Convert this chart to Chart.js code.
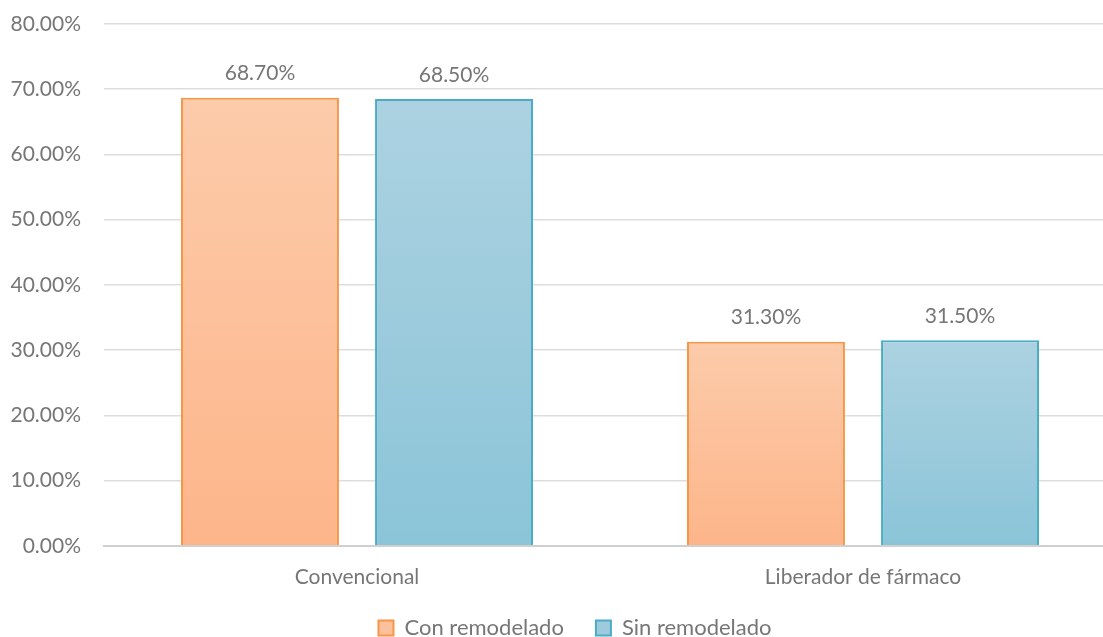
<!DOCTYPE html>
<html>
<head>
<meta charset="utf-8">
<script src="https://cdn.jsdelivr.net/npm/chart.js@4.4.1/dist/chart.umd.min.js"></script>
<style>
  html, body { margin: 0; padding: 0; background: #ffffff; overflow: hidden; }
  #wrap { position: relative; width: 1148px; height: 637px; }
</style>
</head>
<body>
<div id="wrap"><canvas id="c"></canvas></div>
<script>
const categories = ['Convencional', 'Liberador de fármaco'];
const seriesNames = ['Con remodelado', 'Sin remodelado'];
const conRemodelado = [68.7, 31.3];
const sinRemodelado = [68.5, 31.5];
const yTicks = [0, 10, 20, 30, 40, 50, 60, 70, 80];

const FONT = 'Lato, "Liberation Sans", sans-serif';
const TEXT = '#767676';

const palettes = [
  { top: '#FCCBAA', bottom: '#FDB58A', border: '#F79646', legend: '#FCC09C' },
  { top: '#ACD2E1', bottom: '#8BC4D8', border: '#4BACC6', legend: '#9DCBDD' }
];

function gradFill(pi) {
  return function (ctx) {
    const chart = ctx.chart;
    const p = palettes[pi];
    if (!chart.chartArea || ctx.type !== 'data') return p.bottom;
    const y = chart.scales.y;
    const v = ctx.raw;
    const yTop = y.getPixelForValue(v);
    const yBot = y.getPixelForValue(0);
    if (!isFinite(yTop) || !isFinite(yBot) || yTop === yBot) return p.bottom;
    const g = chart.ctx.createLinearGradient(0, yTop, 0, yBot);
    g.addColorStop(0, p.top);
    g.addColorStop(1, p.bottom);
    return g;
  };
}

const dataLabels = {
  id: 'dataLabels',
  afterDatasetsDraw(chart) {
    const ctx = chart.ctx;
    ctx.save();
    ctx.font = '21px ' + FONT;
    ctx.fillStyle = TEXT;
    ctx.textAlign = 'center';
    ctx.textBaseline = 'middle';
    chart.data.datasets.forEach((ds, di) => {
      const meta = chart.getDatasetMeta(di);
      meta.data.forEach((el, i) => {
        ctx.fillText(ds.data[i].toFixed(2) + '%', el.x, el.y - 24);
      });
    });
    ctx.restore();
  }
};

const legendShift = {
  id: 'legendShift',
  afterLayout(chart) {
    if (chart.legend) {
      chart.legend.left += 17;
      chart.legend.right += 17;
    }
  }
};

new Chart(document.getElementById('c'), {
  type: 'bar',
  data: {
    labels: categories,
    datasets: [
      {
        label: seriesNames[0],
        data: conRemodelado,
        backgroundColor: gradFill(0),
        borderColor: palettes[0].border,
        borderWidth: 2,
        borderSkipped: 'bottom'
      },
      {
        label: seriesNames[1],
        data: sinRemodelado,
        backgroundColor: gradFill(1),
        borderColor: palettes[1].border,
        borderWidth: 2,
        borderSkipped: 'bottom'
      }
    ]
  },
  options: {
    responsive: true,
    maintainAspectRatio: false,
    animation: false,
    categoryPercentage: 0.767,
    barPercentage: 0.814,
    layout: { padding: { top: 24, right: 32, left: 0, bottom: -12 } },
    plugins: {
      tooltip: { enabled: false },
      legend: {
        position: 'bottom',
        labels: {
          font: { family: FONT, size: 22 },
          color: TEXT,
          boxWidth: 15,
          boxHeight: 15,
          padding: 32,
          generateLabels(chart) {
            return chart.data.datasets.map((ds, i) => ({
              text: ds.label,
              fillStyle: palettes[i].legend,
              strokeStyle: palettes[i].border,
              lineWidth: 2,
              hidden: false,
              datasetIndex: i,
              fontColor: TEXT
            }));
          }
        }
      }
    },
    scales: {
      x: {
        grid: { display: false, drawTicks: false },
        border: { display: true, color: '#D0D0D0', width: 2 },
        ticks: { font: { family: FONT, size: 21 }, color: TEXT, padding: 19 },
        afterFit(scale) { scale.height = scale.height - 24; }
      },
      y: {
        min: 0,
        max: 80,
        afterBuildTicks(scale) { scale.ticks = yTicks.map(v => ({ value: v })); },
        afterFit(scale) { scale.width = 104; scale.paddingTop = 0; scale.paddingBottom = 0; },
        grid: { color: '#DDDDDD', lineWidth: 1.5, drawTicks: false },
        border: { display: false },
        ticks: {
          font: { family: FONT, size: 21 },
          color: TEXT,
          padding: 23,
          callback: (v) => Number(v).toFixed(2) + '%'
        }
      }
    }
  },
  plugins: [dataLabels, legendShift]
});
</script>
</body>
</html>
